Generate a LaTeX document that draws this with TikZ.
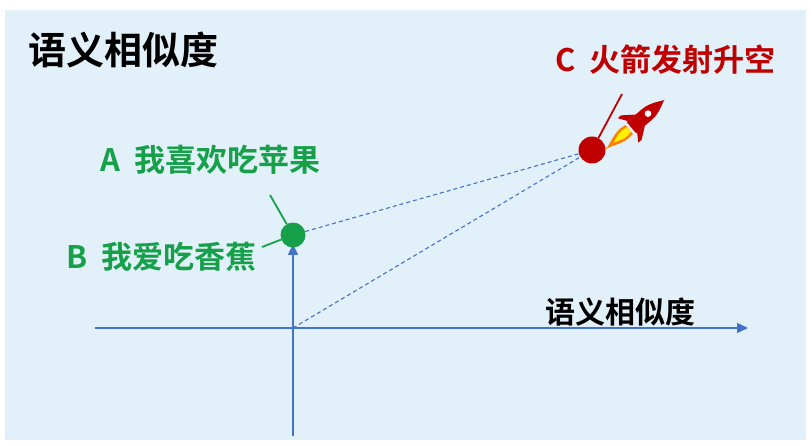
\documentclass[tikz,border=0pt]{standalone}
\usepackage{fontspec}
\newfontfamily\cjk{Noto Sans CJK SC Bold}
\usetikzlibrary{arrows.meta}
\definecolor{bg}{HTML}{E2F0FA}
\definecolor{gr}{HTML}{16A04A}
\definecolor{rd}{HTML}{C00000}
\definecolor{ax}{HTML}{4472C4}
\tikzset{lbl/.style={font=\cjk\fontsize{31}{33}\selectfont,anchor=west,inner sep=0},
 axis/.style={ax,line width=1.4pt,-{Triangle[length=11pt,width=10pt]}},
 dashline/.style={ax,dash pattern=on 4pt off 3pt,line width=1.1pt}}
\begin{document}
\begin{tikzpicture}[x=1pt,y=-1pt]
\useasboundingbox (0,0) rectangle (811,446);
\fill[white] (0,0) rectangle (811,446);
\fill[bg] (5,10) rectangle (806,440);
\node[lbl,font=\cjk\fontsize{38}{40}\selectfont] (title) at (28,50) {语义相似度};
\coordinate (o) at (293,328);
\coordinate (xs) at (95,328);
\coordinate (xe) at (748,328);
\coordinate (ys) at (293,436);
\coordinate (ye) at (293,244);
\draw[axis] (xs) -- (xe);
\draw[axis] (ys) -- (ye);
\node[lbl,font=\cjk\fontsize{30}{32}\selectfont] (xl) at (545,312) {语义相似度};
\node[circle,fill=gr,minimum size=25pt,inner sep=0] (g) at (293,235) {};
\node[circle,fill=rd,minimum size=27pt,inner sep=0] (r) at (592,150) {};
\draw[dashline] (g) -- (r);
\draw[dashline] (o) -- (r);
\node[lbl,text=gr] (A) at (100,160) {A\ \ 我喜欢吃苹果};
\node[lbl,text=gr] (B) at (66,257) {B\ \ 我爱吃香蕉};
\node[lbl,text=rd] (C) at (555,60) {C\ \ 火箭发射升空};
\coordinate (ae) at (270,195);
\coordinate (be) at (262,247);
\coordinate (ce) at (622,94);
\draw[gr,line width=1.8pt] (g) -- (ae);
\draw[gr,line width=1.8pt] (g) -- (be);
\draw[rd,line width=1.8pt] (r) -- (ce);
% rocket
\begin{scope}[shift={(638,122)},rotate=-50,scale=1.45]
\fill[orange] (-4,8) .. controls (-6,18) and (0,24) .. (0,30) .. controls (0,24) and (6,18) .. (4,8) -- cycle;
\fill[yellow] (-2,8) .. controls (-3,14) .. (0,22) .. controls (3,14) .. (2,8) -- cycle;
\fill[rd] (-5,6) -- (-5,-8) .. controls (-5,-16) and (0,-22) .. (0,-24) .. controls (0,-22) and (5,-16) .. (5,-8) -- (5,6) -- cycle;
\fill[rd] (-5,-2) -- (-11,6) -- (-11,9) -- (-5,5) -- cycle;
\fill[rd] (5,-2) -- (11,6) -- (11,9) -- (5,5) -- cycle;
\fill[white] (0,-9) circle (2.3);
\end{scope}
\end{tikzpicture}
\end{document}
